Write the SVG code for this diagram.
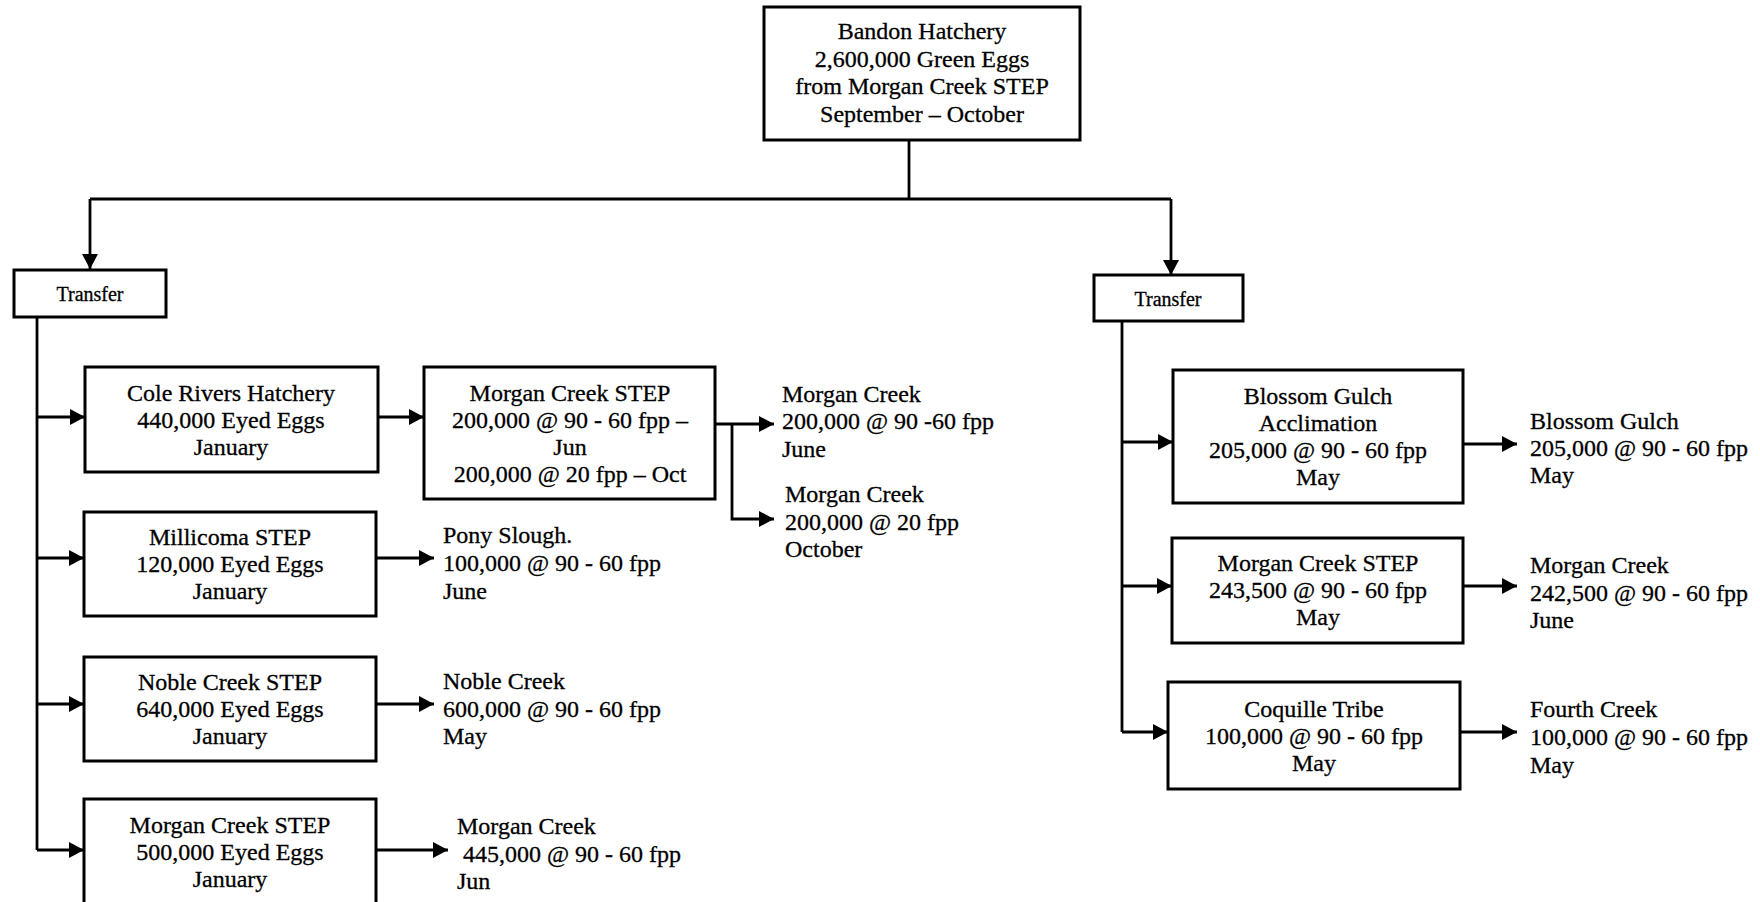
<svg xmlns="http://www.w3.org/2000/svg" width="1760" height="902" viewBox="0 0 1760 902">
<style>
.box{fill:#fff;stroke:#000;stroke-width:3}
.t{font-family:"Liberation Serif","Times New Roman",serif;font-size:24px;fill:#000;stroke:#000;stroke-width:0.3}
.c{text-anchor:middle}
.tr{font-family:"Liberation Serif","Times New Roman",serif;font-size:20px;fill:#000;stroke:#000;stroke-width:0.3;text-anchor:middle}
.ln{fill:none;stroke:#000;stroke-width:2.8}
</style>
<defs>
<marker id="ah" markerUnits="userSpaceOnUse" markerWidth="18" markerHeight="18" refX="15" refY="8" orient="auto">
<path d="M0,0 L15,8 L0,16 Z" fill="#000"/>
</marker>
</defs>
<rect width="1760" height="902" fill="#fff"/>
<g id="connectors">
<path class="ln" d="M909,140 V199"/>
<path class="ln" d="M90,199 H1171"/>
<path class="ln" d="M90,199 V269" marker-end="url(#ah)"/>
<path class="ln" d="M1171,199 V275" marker-end="url(#ah)"/>
<path class="ln" d="M37,317 V850"/>
<path class="ln" d="M37,417 H85" marker-end="url(#ah)"/>
<path class="ln" d="M37,558 H84" marker-end="url(#ah)"/>
<path class="ln" d="M37,704 H84" marker-end="url(#ah)"/>
<path class="ln" d="M37,850 H84" marker-end="url(#ah)"/>
<path class="ln" d="M378,417 H424" marker-end="url(#ah)"/>
<path class="ln" d="M715,424 H774" marker-end="url(#ah)"/>
<path class="ln" d="M732,424 V519 H774" marker-end="url(#ah)"/>
<path class="ln" d="M376,558 H434" marker-end="url(#ah)"/>
<path class="ln" d="M376,704 H434" marker-end="url(#ah)"/>
<path class="ln" d="M376,850 H448" marker-end="url(#ah)"/>
<path class="ln" d="M1122,321 V732"/>
<path class="ln" d="M1122,442 H1173" marker-end="url(#ah)"/>
<path class="ln" d="M1122,586 H1172" marker-end="url(#ah)"/>
<path class="ln" d="M1122,732 H1168" marker-end="url(#ah)"/>
<path class="ln" d="M1463,444 H1517" marker-end="url(#ah)"/>
<path class="ln" d="M1463,586 H1517" marker-end="url(#ah)"/>
<path class="ln" d="M1460,732 H1517" marker-end="url(#ah)"/>
</g>
<g id="bandon">
<rect class="box" x="764" y="7" width="316" height="133"/>
<text class="t c" x="922" y="39">Bandon Hatchery</text>
<text class="t c" x="922" y="67">2,600,000 Green Eggs</text>
<text class="t c" x="922" y="94">from Morgan Creek STEP</text>
<text class="t c" x="922" y="122">September – October</text>
</g>
<g id="transfer-left">
<rect class="box" x="14" y="270" width="152" height="47"/>
<text class="tr" x="90" y="301">Transfer</text>
</g>
<g id="transfer-right">
<rect class="box" x="1094" y="275" width="149" height="46"/>
<text class="tr" x="1168" y="306">Transfer</text>
</g>
<g id="cole-rivers">
<rect class="box" x="85" y="367" width="293" height="105"/>
<text class="t c" x="231" y="401">Cole Rivers Hatchery</text>
<text class="t c" x="231" y="428">440,000 Eyed Eggs</text>
<text class="t c" x="231" y="455">January</text>
</g>
<g id="morgan-step-mid">
<rect class="box" x="424" y="367" width="291" height="132"/>
<text class="t c" x="570" y="401">Morgan Creek STEP</text>
<text class="t c" x="570" y="428">200,000 @ 90 - 60 fpp –</text>
<text class="t c" x="570" y="455">Jun</text>
<text class="t c" x="570" y="482">200,000 @ 20 fpp – Oct</text>
</g>
<g id="morgan-creek-june">
<text class="t" x="782" y="402">Morgan Creek</text>
<text class="t" x="782" y="429">200,000 @ 90 -60 fpp</text>
<text class="t" x="782" y="457">June</text>
</g>
<g id="morgan-creek-oct">
<text class="t" x="785" y="502">Morgan Creek</text>
<text class="t" x="785" y="530">200,000 @ 20 fpp</text>
<text class="t" x="785" y="557">October</text>
</g>
<g id="millicoma">
<rect class="box" x="84" y="512" width="292" height="104"/>
<text class="t c" x="230" y="545">Millicoma STEP</text>
<text class="t c" x="230" y="572">120,000 Eyed Eggs</text>
<text class="t c" x="230" y="599">January</text>
</g>
<g id="pony-slough">
<text class="t" x="443" y="543">Pony Slough.</text>
<text class="t" x="443" y="571">100,000 @ 90 - 60 fpp</text>
<text class="t" x="443" y="599">June</text>
</g>
<g id="noble-step">
<rect class="box" x="84" y="657" width="292" height="104"/>
<text class="t c" x="230" y="690">Noble Creek STEP</text>
<text class="t c" x="230" y="717">640,000 Eyed Eggs</text>
<text class="t c" x="230" y="744">January</text>
</g>
<g id="noble-creek">
<text class="t" x="443" y="689">Noble Creek</text>
<text class="t" x="443" y="717">600,000 @ 90 - 60 fpp</text>
<text class="t" x="443" y="744">May</text>
</g>
<g id="morgan-step-bottom">
<rect class="box" x="84" y="799" width="292" height="110"/>
<text class="t c" x="230" y="833">Morgan Creek STEP</text>
<text class="t c" x="230" y="860">500,000 Eyed Eggs</text>
<text class="t c" x="230" y="887">January</text>
</g>
<g id="morgan-creek-jun">
<text class="t" x="457" y="834">Morgan Creek</text>
<text class="t" x="463" y="862">445,000 @ 90 - 60 fpp</text>
<text class="t" x="457" y="889">Jun</text>
</g>
<g id="blossom-accl">
<rect class="box" x="1173" y="370" width="290" height="133"/>
<text class="t c" x="1318" y="404">Blossom Gulch</text>
<text class="t c" x="1318" y="431">Acclimation</text>
<text class="t c" x="1318" y="458">205,000 @ 90 - 60 fpp</text>
<text class="t c" x="1318" y="485">May</text>
</g>
<g id="blossom-gulch">
<text class="t" x="1530" y="429">Blossom Gulch</text>
<text class="t" x="1530" y="456">205,000 @ 90 - 60 fpp</text>
<text class="t" x="1530" y="483">May</text>
</g>
<g id="morgan-step-right">
<rect class="box" x="1172" y="538" width="291" height="105"/>
<text class="t c" x="1318" y="571">Morgan Creek STEP</text>
<text class="t c" x="1318" y="598">243,500 @ 90 - 60 fpp</text>
<text class="t c" x="1318" y="625">May</text>
</g>
<g id="morgan-creek-right">
<text class="t" x="1530" y="573">Morgan Creek</text>
<text class="t" x="1530" y="601">242,500 @ 90 - 60 fpp</text>
<text class="t" x="1530" y="628">June</text>
</g>
<g id="coquille">
<rect class="box" x="1168" y="682" width="292" height="107"/>
<text class="t c" x="1314" y="717">Coquille Tribe</text>
<text class="t c" x="1314" y="744">100,000 @ 90 - 60 fpp</text>
<text class="t c" x="1314" y="771">May</text>
</g>
<g id="fourth-creek">
<text class="t" x="1530" y="717">Fourth Creek</text>
<text class="t" x="1530" y="745">100,000 @ 90 - 60 fpp</text>
<text class="t" x="1530" y="773">May</text>
</g>
</svg>
